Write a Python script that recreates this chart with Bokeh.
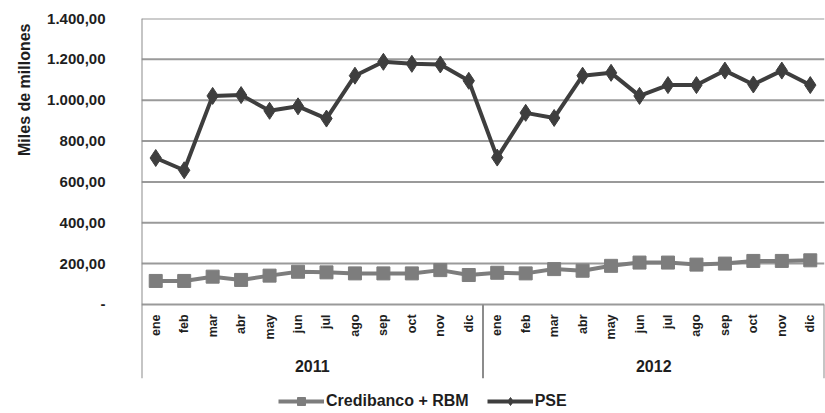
import math
from bokeh.plotting import figure
from bokeh.models import (Range1d, FixedTicker, Legend, LegendItem, Title, ColumnDataSource)
from bokeh.core.properties import value
from bokeh.embed import file_html
from bokeh.resources import INLINE

# ---------------- data ----------------
years = ["2011", "2012"]
months = ["ene", "feb", "mar", "abr", "may", "jun", "jul", "ago", "sep", "oct", "nov", "dic"]
credibanco_rbm = [115, 115, 136, 120, 141, 160, 157, 152, 152, 152, 168, 144,
                  155, 152, 173, 165, 189, 205, 205, 195, 200, 213, 213, 216]
pse = [717, 657, 1021, 1025, 948, 970, 910, 1120, 1188, 1178, 1175, 1095,
       719, 938, 913, 1120, 1134, 1021, 1074, 1074, 1145, 1077, 1145, 1074]
y_ticks = [0, 200, 400, 600, 800, 1000, 1200, 1400]
y_tick_labels = ["-", "200,00", "400,00", "600,00", "800,00", "1.000,00", "1.200,00", "1.400,00"]
y_title = "Miles de millones"
series_names = ["Credibanco + RBM", "PSE"]

# ---------------- layout ----------------
n = len(years) * len(months)
x_pos = [i + 0.5 for i in range(n)]
month_labels = months * len(years)
Y_TOP = 1400
Y_GROUP_BOTTOM = -362     # bottom of the year-group brackets
Y_BOTTOM = -534           # bottom of the drawing area (legend lives there)
FONT = "Liberation Sans"
TXT = "#1e1e1e"
AX = "#8c8c8c"

p = figure(width=825, height=413, output_backend="svg", toolbar_location=None,
           x_axis_location=None,
           x_range=Range1d(0, n), y_range=Range1d(Y_BOTTOM, Y_TOP),
           min_border_left=141, min_border_right=1, min_border_top=18, min_border_bottom=0)
p.outline_line_color = None
p.xgrid.visible = False
p.ygrid.visible = False
p.background_fill_color = "white"
p.border_fill_color = "white"

yax = p.yaxis[0]
yax.ticker = FixedTicker(ticks=y_ticks)
yax.major_label_overrides = {t: l for t, l in zip(y_ticks, y_tick_labels)}
yax.major_tick_line_color = None
yax.minor_tick_line_color = None
yax.axis_line_color = None
yax.major_label_standoff = 30
yax.major_label_text_font = FONT
yax.major_label_text_font_style = "bold"
yax.major_label_text_font_size = "15px"
yax.major_label_text_color = TXT

# y title, placed high on the left like the reference
p.add_layout(Title(text=y_title, align="right", text_font=FONT, text_font_style="bold",
                   text_font_size="16px", text_color=TXT, standoff=24, offset=5), "left")

# horizontal grid lines over the plotting area
p.segment(x0=[0] * len(y_ticks), y0=y_ticks, x1=[n] * len(y_ticks), y1=y_ticks,
          line_color="#9a9a9a", line_width=2)

# month labels and year group labels
src_m = ColumnDataSource(dict(x=x_pos, y=[0] * n, t=month_labels))
p.text(x="x", y="y", text="t", source=src_m, angle=math.pi / 2, text_align="right",
       text_baseline="middle", y_offset=10, text_font=value(FONT), text_font_style="bold",
       text_font_size="12.5px", text_color=TXT)

grp = len(months)
src_y = ColumnDataSource(dict(x=[grp * (k + 0.5) for k in range(len(years))], y=[0] * len(years), t=years))
p.text(x="x", y="y", text="t", source=src_y, text_align="center", text_baseline="middle",
       y_offset=62, text_font=value(FONT), text_font_style="bold", text_font_size="16px",
       text_color=TXT)

# left axis line + group separators
sep_x = [grp * k for k in range(len(years) + 1)]
sep_top = [Y_TOP] + [0] * len(years)
p.segment(x0=sep_x, y0=sep_top, x1=sep_x, y1=[Y_GROUP_BOTTOM] * len(sep_x),
          line_color=AX, line_width=2)

# series
c_cred = "#7d7d7d"
c_pse = "#3e3e3e"
l1 = p.line(x_pos, credibanco_rbm, line_color=c_cred, line_width=4)
s1 = p.scatter(x_pos, credibanco_rbm, marker="square", size=13, fill_color=c_cred, line_color=c_cred)
l2 = p.line(x_pos, pse, line_color=c_pse, line_width=4)
s2 = p.scatter(x_pos, pse, marker="diamond", size=17, fill_color=c_pse, line_color=c_pse)

legend = Legend(items=[LegendItem(label=series_names[0], renderers=[l1, s1]),
                       LegendItem(label=series_names[1], renderers=[l2, s2])],
                orientation="horizontal", location=(137, 2), margin=0, padding=3,
                spacing=18, glyph_width=46, glyph_height=20, label_height=20,
                label_standoff=2, border_line_color=None, background_fill_alpha=0,
                label_text_font=FONT, label_text_font_style="bold",
                label_text_font_size="16px", label_text_color=TXT)
p.add_layout(legend, "center")

open("out.html", "w").write(file_html(p, INLINE))
